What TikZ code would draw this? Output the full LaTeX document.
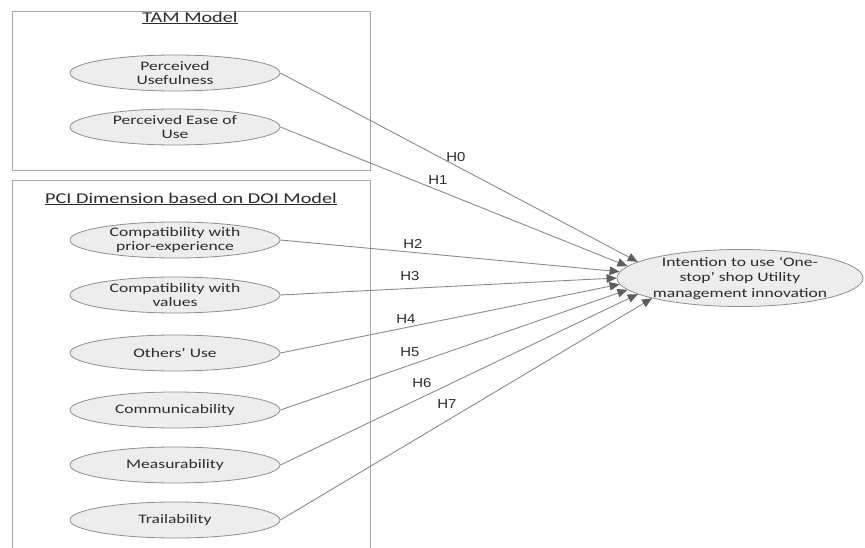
\documentclass[tikz,border=0pt]{standalone}
\usepackage{fontspec}
\setmainfont[FakeStretch=1.35]{Carlito}
\newfontfamily\hfont[FakeStretch=1.15]{Liberation Sans}
\usetikzlibrary{shapes.geometric,arrows.meta}
\definecolor{txt}{HTML}{2B2B2B}
\definecolor{ellline}{HTML}{8E8E8E}
\definecolor{ellfill}{HTML}{EDEDED}
\definecolor{lnc}{HTML}{8A8A8A}
\definecolor{tipc}{HTML}{5E5E5E}
\definecolor{boxc}{HTML}{A8A8A8}
\begin{document}
\begin{tikzpicture}[x=1pt,y=-1pt,
 ell/.style={ellipse, draw=ellline, line width=0.8pt, fill=ellfill, minimum width=210pt, minimum height=36pt, inner xsep=-8pt, inner ysep=-4pt, align=center, font=\fontsize{13}{14}\selectfont, text=txt},
 conn/.style={draw=lnc, line width=0.9pt, -{Triangle[length=10pt,width=8.5pt,fill=tipc,color=tipc]}},
 hlab/.style={font=\hfont\fontsize{13}{15}\selectfont, text=txt, inner sep=0pt},
 ttl/.style={font=\fontsize{15}{17}\selectfont, text=txt, inner sep=0pt},
 frame/.style={draw=boxc, line width=0.8pt}]
\useasboundingbox (0,0) rectangle (865,548);
% boxes
\draw[frame] (12,11) rectangle (370,170);
\draw[frame] (12,548) -- (12,180) -- (370,180) -- (370,548);
\node[ttl] (t1) at (190,18) {\underline{TAM Model}};
\node[ttl] (t2) at (191,199) {\underline{PCI Dimension based on DOI Model}};
% predictors
\node[ell] (pu) at (175,73) {Perceived\\Usefulness};
\node[ell] (pe) at (175,127) {Perceived Ease of\\Use};
\node[ell] (cp) at (175,240) {Compatibility with\\prior-experience};
\node[ell] (cv) at (175,295) {Compatibility with\\values};
\node[ell] (ou) at (175,353) {Others’ Use};
\node[ell] (cm) at (175,410) {Communicability};
\node[ell] (ms) at (175,465) {Measurability};
\node[ell] (tr) at (175,520) {Trailability};
% outcome
\node[ell, minimum width=246pt, minimum height=57pt, inner xsep=-15pt, inner ysep=-4pt, font=\fontsize{13}{15.5}\selectfont] (iu) at (740,278) {Intention to use ‘One-\\stop’ shop Utility\\management innovation};
% connectors
\draw[conn] (pu.east) -- (iu.171);
\draw[conn] (pe.east) -- (iu.174);
\draw[conn] (cp.east) -- (iu.177);
\draw[conn] (cv.east) -- (iu.180);
\draw[conn] (ou.east) -- (iu.183);
\draw[conn] (cm.east) -- (iu.186);
\draw[conn] (ms.east) -- (iu.189.5);
\draw[conn] (tr.east) -- (iu.193);
% labels
\node[hlab] (h0) at (456,157) {H0};
\node[hlab] (h1) at (438,180) {H1};
\node[hlab] (h2) at (413,244) {H2};
\node[hlab] (h3) at (410,276) {H3};
\node[hlab] (h4) at (406,319) {H4};
\node[hlab] (h5) at (410,352) {H5};
\node[hlab] (h6) at (422,383) {H6};
\node[hlab] (h7) at (447,404) {H7};
\end{tikzpicture}
\end{document}
